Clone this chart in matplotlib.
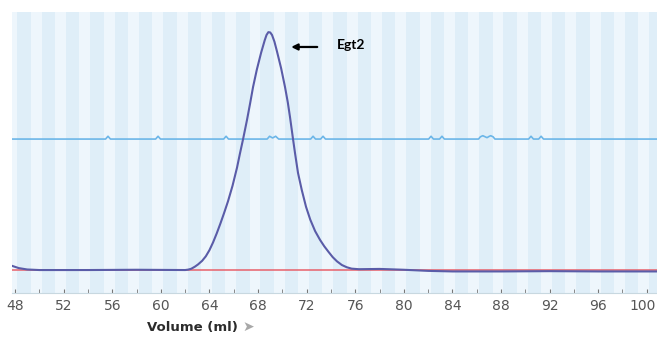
import numpy as np
import matplotlib.pyplot as plt
from matplotlib.transforms import ScaledTranslation

# UV absorbance trace (mAU, baseline at 0)
volume_uv = [47.75, 48.3, 49.0, 50.0, 54.0, 58.0, 62.0, 62.25, 62.5, 62.8,
             63.06, 63.4, 63.7, 64.0, 64.3, 64.6, 64.9, 65.2, 65.53, 65.9,
             66.27, 66.5, 66.77, 67.09, 67.35, 67.59, 67.9, 68.25, 68.55,
             68.7, 68.85, 69.0, 69.15, 69.35, 69.56, 69.9, 70.22, 70.45,
             70.63, 70.88, 71.05, 71.29, 71.6, 71.95, 72.3, 72.7, 73.1, 73.45,
             73.8, 74.15, 74.5, 74.9, 75.3, 75.7, 76.3, 78.0, 80.0, 82.0,
             84.0, 88.0, 92.0, 96.0, 100.84]
uv_mau = [1.4, 0.6, 0.1, -0.1, -0.1, 0.0, -0.1, 0.05, 0.35, 1.1,
          1.9, 3.2, 4.8, 7.0, 9.8, 13.0, 16.5, 20.2, 24.5, 30.0,
          36.5, 41.3, 46.7, 53.5, 59.5, 65.3, 71.5, 77.5, 82.0,
          83.9, 84.9, 84.8, 83.9, 81.5, 78.0, 72.0, 65.3, 59.8,
          54.6, 46.7, 41.5, 34.6, 28.5, 22.5, 17.9, 13.8, 10.7, 8.4,
          6.4, 4.5, 3.0, 1.7, 0.9, 0.4, 0.2, 0.3, 0.0, -0.4,
          -0.6, -0.6, -0.5, -0.6, -0.6]

# second (red) trace, flat
volume_red = [47.75, 100.84]
red_mau = [0.0, 0.0]

# conductivity-like trace with small fraction marks
cond_volume = [47.75,
               55.45, 55.65, 55.85,
               59.57, 59.77, 59.97,
               65.17, 65.37, 65.57,
               68.75, 68.95, 69.2, 69.45, 69.7,
               72.33, 72.53, 72.73,
               73.15, 73.35, 73.55,
               82.04, 82.24, 82.44,
               82.94, 83.14, 83.34,
               86.15, 86.3, 86.5, 86.7, 86.85, 87.0, 87.15, 87.35, 87.5,
               90.27, 90.47, 90.67,
               91.1, 91.3, 91.5,
               100.84]
cond_value = [46.7,
              46.7, 47.7, 46.7,
              46.7, 47.7, 46.7,
              46.7, 47.7, 46.7,
              46.7, 47.7, 47.1, 47.7, 46.7,
              46.7, 47.7, 46.7,
              46.7, 47.7, 46.7,
              46.7, 47.7, 46.7,
              46.7, 47.7, 46.7,
              46.7, 47.5, 47.9, 47.5, 47.2, 47.6, 47.9, 47.5, 46.7,
              46.7, 47.7, 46.7,
              46.7, 47.7, 46.7,
              46.7]

major_ticks = list(range(48, 101, 4))
minor_ticks = list(range(48, 101, 2))

fig = plt.figure(figsize=(6.57, 3.37), dpi=100)
ax = fig.add_axes([0.0183, 0.1306, 0.9817, 0.8338])

# striped background
ax.set_facecolor('#dfeef8')
for start in np.arange(47, 101, 2):
    ax.axvspan(start + 0.3, start + 1.2, color='#eef6fc', lw=0, zorder=0)

ax.plot(volume_red, red_mau, color='#e8606a', lw=1.1, zorder=2)
ax.plot(cond_volume, cond_value, color='#6cb6e8', lw=1.2, zorder=3)
ax.plot(volume_uv, uv_mau, color='#5a5ca8', lw=1.5, zorder=4,
        solid_joinstyle='round')

# peak annotation
ax.annotate('', xy=(70.5, 79.6), xytext=(73.1, 79.6),
            arrowprops=dict(arrowstyle='-|>', color='black', lw=1.6,
                            mutation_scale=9))
ax.text(74.5, 80.3, 'Egt2', fontsize=10, fontweight='bold',
        family='Lato', ha='left', va='center', color='black')

ax.set_xlim(47.75, 100.84)
ax.set_ylim(-8.3, 92.1)
ax.set_xticks(major_ticks)
ax.set_xticks(minor_ticks, minor=True)
ax.set_yticks([])
ax.tick_params(axis='x', which='both', direction='in', length=3,
               color='#777777', labelsize=10, labelcolor='#555555', pad=4)
for side in ['top', 'right', 'left']:
    ax.spines[side].set_visible(False)
ax.spines['bottom'].set_color('#c8d8e0')
ax.spines['bottom'].set_linewidth(0.8)

# keep the last label inside the figure
last = ax.get_xticklabels()[-1]
last.set_transform(last.get_transform() + ScaledTranslation(-4 / 100, 0, fig.dpi_scale_trans))

fig.text(192 / 657, 1 - 327 / 337, 'Volume (ml)', fontsize=9.5,
         fontweight='bold', color='#2b2b2b', ha='center', va='center')
fig.text(248 / 657, 1 - 327 / 337, '\u27a4', fontsize=10,
         color='#a8a8a8', ha='center', va='center')

fig.savefig('out.png', dpi=100)
